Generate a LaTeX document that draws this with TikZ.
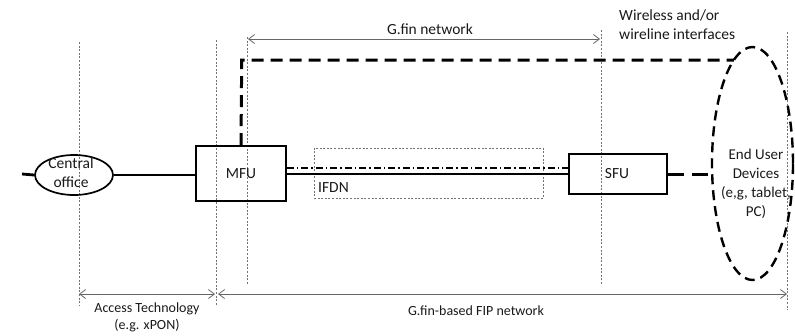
\documentclass[tikz,border=0pt]{standalone}
\usepackage{fontspec}
\setmainfont{Carlito}
\usetikzlibrary{arrows.meta,shapes.geometric}
\begin{document}
\begin{tikzpicture}[x=1pt,y=-1pt,
  txt/.style={font=\fontsize{15.5}{19}\selectfont, text=black!90, inner sep=0pt, align=center},
  small/.style={txt, font=\fontsize{14}{17}\selectfont},
  unitbox/.style={draw, line width=1.7pt, inner sep=0pt},
  guide/.style={draw=black!55, line width=0.6pt, dash pattern=on 2pt off 1.6pt},
  span/.style={draw=black!60, line width=0.8pt, {Straight Barb[length=6pt,width=9pt]}-{Straight Barb[length=6pt,width=9pt]}},
  trunk/.style={line width=2.8pt},
  radio/.style={line width=3pt, dash pattern=on 12pt off 7pt},
]
\useasboundingbox (0,0) rectangle (795,335);

% vertical guide lines
\coordinate (g1t) at (79,42);   \coordinate (g1b) at (79,305);
\coordinate (g2t) at (216,40);  \coordinate (g2b) at (216,305);
\coordinate (g3t) at (247,37);  \coordinate (g3b) at (247,285);
\coordinate (g4t) at (601,30);  \coordinate (g4b) at (601,285);
\coordinate (g5t) at (787,32);  \coordinate (g5b) at (787,310);
\foreach \g in {1,...,5} \draw[guide] (g\g t) -- (g\g b);

% IFDN region
\node[draw=black!55, line width=0.6pt, dash pattern=on 2pt off 1.6pt,
      minimum width=229pt, minimum height=50pt, inner sep=0pt] (ifdn) at (428.5,173) {};
\node[txt, anchor=west] (ifdnlbl) at (318,188) {IFDN};

% network elements
\node[draw, ellipse, line width=1.7pt, minimum width=78pt, minimum height=40pt, inner sep=0pt] (co) at (74,175) {};
\node[txt] (colbl) at (71,173) {Central\\office};
\node[unitbox, minimum width=90pt, minimum height=55pt] (mfu) at (241,173.5) {};
\node[txt] (mfulbl) at (241,174) {MFU};
\node[unitbox, minimum width=98pt, minimum height=40pt] (sfu) at (618,174) {};
\node[txt] (sfulbl) at (617,174) {SFU};
\node[draw, ellipse, line width=2.4pt, dash pattern=on 10pt off 6pt,
      minimum width=81pt, minimum height=233pt, inner sep=0pt] (eud) at (752.5,163.5) {};
\node[txt, font=\fontsize{15}{19}\selectfont] (eudlbl) at (756,184) {End User\\Devices\\(e,g, tablet,\\PC)};

% wired trunk
\coordinate (feed) at (22,174);
\draw[trunk] (feed) -- (co.west);
\draw[trunk] (co.east) -- (mfu.west |- co.east);
\draw[trunk] (mfu.east |- sfu.west) -- (sfu.west);
\draw[line width=1.4pt, dash pattern=on 7pt off 3pt on 1.5pt off 3pt]
  ([yshift=6pt]mfu.east |- sfu.west) -- ([yshift=6pt]sfu.west);

% wireless / wireline links to end user devices
\coordinate (bend) at (241.7,60);
\coordinate (top) at (733.9,60);
\draw[radio] (mfu.north) -- (bend) -- (top);
\draw[line width=3pt, dash pattern=on 16pt off 8pt] (sfu.east) -- (712.2,174);

% span arrows
\draw[span] (248,39) -- (600,39);
\node[txt] (gfin) at (430,29) {G.fin network};
\draw[span] (79,294) -- (215,294);
\draw[span] (218,294) -- (787,294);
\node[small] (access) at (147,317.5) {Access Technology\\(e.g. xPON)};
\node[small] (fip) at (476,311) {G.fin-based FIP network};
\node[txt, anchor=west, align=left] (wl) at (619,25) {Wireless and/or\\wireline interfaces};
\end{tikzpicture}
\end{document}
